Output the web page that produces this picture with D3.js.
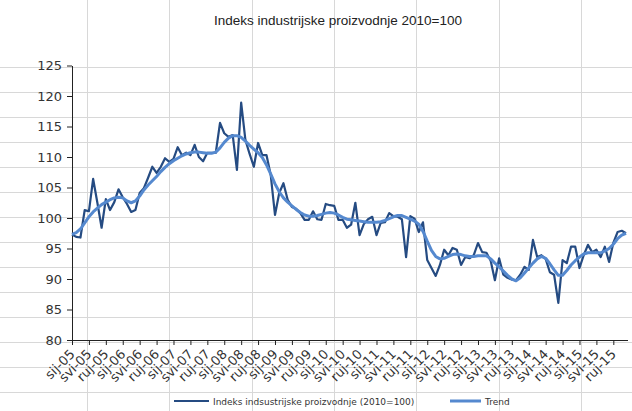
<!DOCTYPE html>
<html>
<head>
<meta charset="utf-8">
<script src="https://cdn.jsdelivr.net/npm/d3@7"></script>
<style>
  body { margin: 0; background: #fff; }
  svg { display: block; }
</style>
</head>
<body>
<svg id="chart"></svg>
<script>
// monthly values, sij-05 .. pro-15
const industryIndex = [
  97.3, 96.9, 96.8, 101.3, 101.1, 106.4, 102.5, 98.4, 103.1, 101.3, 102.6, 104.7,
  103.4, 102.3, 101.0, 101.3, 104.1, 104.9, 106.6, 108.4, 107.4, 108.4, 109.8, 109.2,
  109.7, 111.6, 110.3, 110.7, 110.3, 112.0, 110.0, 109.3, 110.7, 110.7, 110.7, 115.6,
  113.9, 113.3, 113.6, 107.9, 118.9, 112.8, 110.5, 108.4, 112.3, 110.3, 110.3, 107.0,
  100.5, 104.1, 105.7, 103.0, 101.8, 101.5, 100.8, 99.7, 99.7, 101.1, 99.8, 99.7,
  102.3, 102.1, 102.0, 99.7, 99.7, 98.4, 98.9, 102.5, 97.2, 99.0, 99.8, 100.2,
  97.2, 99.2, 99.3, 100.8, 100.3, 100.2, 99.8, 93.6, 100.3, 99.9, 97.7, 99.3,
  93.1, 91.8, 90.5, 92.3, 94.8, 93.9, 95.1, 94.8, 92.3, 93.6, 93.4, 93.9,
  95.9, 94.4, 94.3, 93.0, 89.8, 93.4, 90.7, 90.2, 89.9, 89.8, 90.7, 92.0,
  91.5, 96.4, 93.6, 93.9, 93.3, 91.1, 90.7, 86.1, 93.1, 92.6, 95.3, 95.3,
  91.8, 93.9, 95.6, 94.4, 94.8, 93.6, 95.3, 92.8, 95.9, 97.7, 97.9, 97.5
];

const trendIndex = [
  97.3, 97.6, 98.2, 99.2, 100.2, 101.0, 101.6, 102.2, 102.6, 103.0, 103.3, 103.4,
  103.3, 102.8, 102.5, 102.8, 103.6, 104.6, 105.4, 106.1, 106.8, 107.6, 108.3, 108.9,
  109.4, 109.8, 110.2, 110.5, 110.7, 110.8, 110.8, 110.7, 110.6, 110.6, 110.8, 111.5,
  112.4, 113.1, 113.5, 113.5, 113.2, 112.6, 111.9, 111.3, 110.7, 109.9, 108.7, 107.2,
  105.6, 104.3, 103.3, 102.6, 102.0, 101.4, 100.9, 100.5, 100.3, 100.3, 100.4, 100.6,
  100.8, 100.9, 100.8, 100.5, 100.1, 99.8, 99.7, 99.6, 99.5, 99.4, 99.3, 99.3,
  99.3, 99.4, 99.6, 99.9, 100.2, 100.4, 100.4, 100.1, 99.8, 99.5, 99.0, 97.8,
  96.2, 94.7, 93.7, 93.3, 93.4, 93.7, 94.0, 94.1, 94.0, 93.8, 93.7, 93.7,
  93.8, 93.8, 93.8, 93.3, 92.6, 92.0, 91.3, 90.6, 90.0, 89.7, 90.2, 91.0,
  91.8, 92.6, 93.3, 93.7, 93.4, 92.5, 91.5, 90.6, 90.6, 91.4, 92.3, 93.0,
  93.6, 94.1, 94.3, 94.3, 94.3, 94.3, 94.6, 95.0, 95.7, 96.6, 97.2, 97.5
];

// one label every 4 months
const tickLabels = [
  "sij-05", "svi-05", "ruj-05", "sij-06", "svi-06", "ruj-06",
  "sij-07", "svi-07", "ruj-07", "sij-08", "svi-08", "ruj-08",
  "sij-09", "svi-09", "ruj-09", "sij-10", "svi-10", "ruj-10",
  "sij-11", "svi-11", "ruj-11", "sij-12", "svi-12", "ruj-12",
  "sij-13", "svi-13", "ruj-13", "sij-14", "svi-14", "ruj-14",
  "sij-15", "svi-15", "ruj-15"
];

const yTicks = [80, 85, 90, 95, 100, 105, 110, 115, 120, 125];

const width = 632;
const height = 411;

const svg = d3.select("#chart")
  .attr("width", width)
  .attr("height", height)
  .style("font-family", "'DejaVu Sans', sans-serif");

// faint sheet grid behind the chart
const sheet = svg.append("g").attr("stroke", "#d8d8d8").attr("stroke-width", 1);
d3.range(67, height, 25).forEach(y => {
  sheet.append("line").attr("x1", 0).attr("x2", width).attr("y1", y + 0.5).attr("y2", y + 0.5);
});
d3.range(87, width, 82.3).forEach(x => {
  sheet.append("line").attr("x1", Math.round(x) + 0.5).attr("x2", Math.round(x) + 0.5).attr("y1", 0).attr("y2", height);
});

const xScale = d3.scalePoint()
  .domain(d3.range(industryIndex.length))
  .range([72, 626]);

const yScale = d3.scaleLinear()
  .domain([80, 125])
  .range([340, 65.5]);

// title
svg.append("text")
  .attr("x", 338)
  .attr("y", 25)
  .attr("text-anchor", "middle")
  .style("font-family", "'Liberation Sans', Arial, sans-serif")
  .style("font-size", "13.5px")
  .attr("fill", "#222")
  .text("Indeks industrijske proizvodnje 2010=100");

// y axis
const yAxis = d3.axisLeft(yScale)
  .tickValues(yTicks)
  .tickSize(5)
  .tickSizeOuter(0)
  .tickPadding(5);

svg.append("g")
  .attr("transform", "translate(72,0)")
  .call(yAxis)
  .call(g => g.selectAll("text").style("font-size", "13px").attr("fill", "#333").style("font-family", "'DejaVu Sans', sans-serif"))
  .call(g => g.selectAll("line, path").attr("stroke", "#222"));

// x axis
const xAxis = d3.axisBottom(xScale)
  .tickValues(xScale.domain().filter(i => i % 4 === 0))
  .tickFormat(i => tickLabels[i / 4])
  .tickSize(5)
  .tickSizeOuter(0);

svg.append("g")
  .attr("transform", "translate(0,340)")
  .call(xAxis)
  .call(g => g.select(".domain").attr("d", "M72,0.5H628"))
  .call(g => g.selectAll("line, path").attr("stroke", "#222"))
  .call(g => g.selectAll("text")
    .style("font-size", "13px")
    .style("font-family", "'DejaVu Sans', sans-serif")
    .attr("fill", "#333")
    .attr("text-anchor", "end")
    .attr("dy", null)
    .attr("y", 0)
    .attr("transform", "translate(3,15) rotate(-45)"));

// lines
const line = d3.line()
  .x((d, i) => xScale(i))
  .y(d => yScale(d));

svg.append("path")
  .datum(industryIndex)
  .attr("fill", "none")
  .attr("stroke", "#254b82")
  .attr("stroke-width", 2.2)
  .attr("stroke-linejoin", "round")
  .attr("d", line);

svg.append("path")
  .datum(trendIndex)
  .attr("fill", "none")
  .attr("stroke", "#5589cf")
  .attr("stroke-width", 3)
  .attr("stroke-linejoin", "round")
  .attr("d", line);

// legend
const legend = svg.append("g").style("font-size", "9px").attr("fill", "#333");
legend.append("line").attr("x1", 174).attr("x2", 209).attr("y1", 401).attr("y2", 401)
  .attr("stroke", "#254b82").attr("stroke-width", 2);
legend.append("text").attr("x", 213).attr("y", 404.5).text("Indeks indsustrijske proizvodnje (2010=100)");
legend.append("line").attr("x1", 450).attr("x2", 481).attr("y1", 401).attr("y2", 401)
  .attr("stroke", "#5589cf").attr("stroke-width", 3);
legend.append("text").attr("x", 485).attr("y", 404.5).text("Trend");
</script>
</body>
</html>
